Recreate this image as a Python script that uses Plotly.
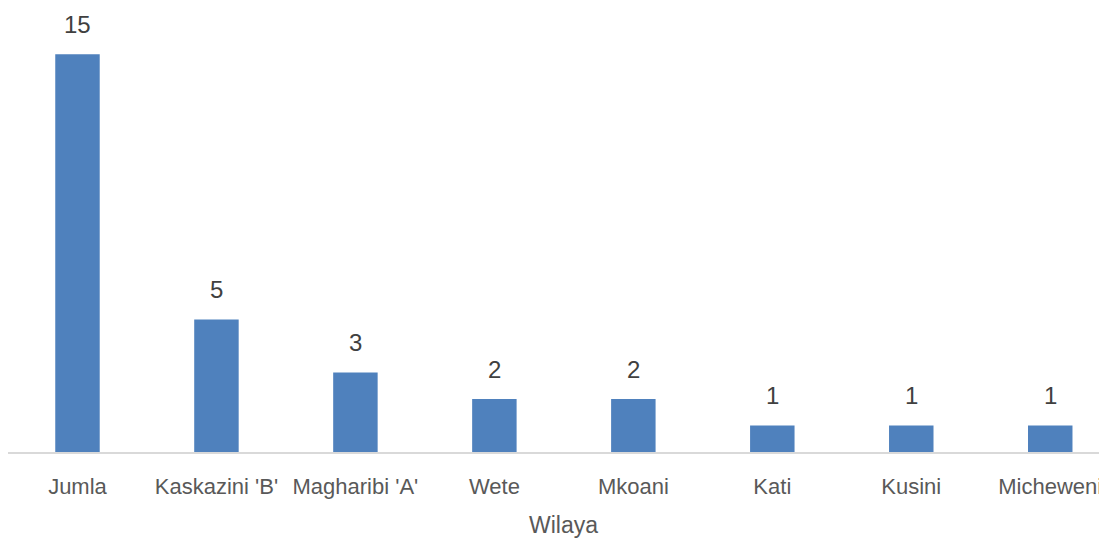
import plotly.graph_objects as go

wilaya = ["Jumla", "Kaskazini 'B'", "Magharibi 'A'", "Wete", "Mkoani", "Kati", "Kusini", "Micheweni"]
idadi = [15, 5, 3, 2, 2, 1, 1, 1]

font_family = "Liberation Sans Narrow, Arial Narrow, Liberation Sans, Arial, sans-serif"

fig = go.Figure(data=[
    go.Bar(
        x=wilaya,
        y=idadi,
        marker=dict(color="#4f81bd", line=dict(width=0)),
        cliponaxis=False,
    )
])

# data labels sitting a bit above each bar
for w, v in zip(wilaya, idadi):
    fig.add_annotation(
        x=w, y=v, text=str(v), showarrow=False,
        yanchor="bottom", yshift=14,
        font=dict(family=font_family, size=24, color="#404040"),
    )

# axis title centred under the category band
fig.add_annotation(
    x=3.5, xref="x", y=-0.164, yref="paper", yanchor="middle",
    text="Wilaya", showarrow=False,
    font=dict(family=font_family, size=23, color="#595959"),
)

# page body adds an 8px margin, so the figure is laid out from that offset
fig.update_layout(
    width=1107, height=540,
    margin=dict(l=0, r=0, t=0, b=96, autoexpand=False),
    paper_bgcolor="white",
    plot_bgcolor="white",
    bargap=0.68,
    showlegend=False,
    font=dict(family=font_family, size=23, color="#595959"),
)
fig.update_xaxes(
    range=[-0.5, 7.466],
    showline=True, linecolor="#d9d9d9", linewidth=2,
    ticks="", ticklabelstandoff=14, tickangle=0, automargin=False,
    tickfont=dict(family=font_family, size=22, color="#595959"),
    showgrid=False,
)
fig.update_yaxes(range=[0, 16.74], visible=False, showgrid=False, zeroline=False)

fig.write_html("out.html")
